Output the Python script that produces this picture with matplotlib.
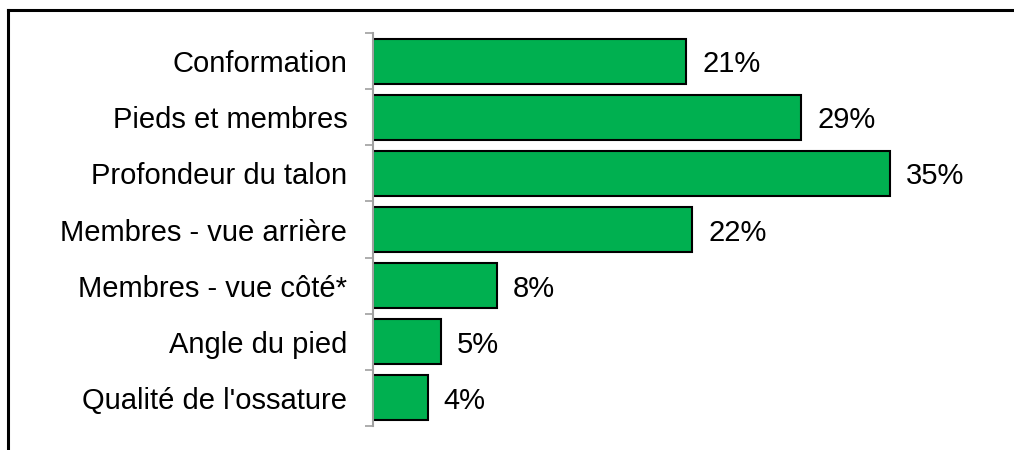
import matplotlib.pyplot as plt
import numpy as np
from matplotlib.lines import Line2D

# Data (percent)
categories = ["Conformation", "Pieds et membres", "Profondeur du talon",
              "Membres - vue arrière", "Membres - vue côté*", "Angle du pied",
              "Qualité de l'ossature"]
values = [21.2, 29.0, 35.0, 21.6, 8.4, 4.6, 3.7]

plt.rcParams['font.family'] = ['Liberation Sans', 'DejaVu Sans']

fig = plt.figure(figsize=(10.14, 4.5), dpi=100)
ax = fig.add_axes([373 / 1014, 1 - 426 / 450, 641 / 1014, 393 / 450])

y = np.arange(len(categories))
ax.barh(y, values, height=0.8, color="#00B050", edgecolor="black", linewidth=1.5)

for yi, v in zip(y, values):
    ax.annotate(f"{v:.0f}%", (v, yi), xytext=(11.5, 0), textcoords="offset points",
                va="center_baseline", ha="left", fontsize=21)

ax.set_xlim(0, 641 / 14.77)
ax.set_ylim(len(categories) - 0.5, -0.5)

ax.set_yticks(y)
ax.set_yticklabels(categories, fontsize=21, va="center_baseline")
ax.tick_params(axis="y", which="major", length=0, pad=18.5)
ax.set_yticks(np.arange(-0.5, len(categories)), minor=True)
ax.tick_params(axis="y", which="minor", length=6, width=1.2, color="#A0A0A0")
ax.set_xticks([])

for s in ["top", "right", "bottom"]:
    ax.spines[s].set_visible(False)
ax.spines["left"].set_color("#A0A0A0")
ax.spines["left"].set_linewidth(1.5)

# outer frame (cropped at the right and bottom)
fig.add_artist(Line2D([8 / 1014, 8 / 1014], [1 - 10 / 450, -0.1], color="black", lw=2.2))
fig.add_artist(Line2D([8 / 1014, 1.1], [1 - 10 / 450, 1 - 10 / 450], color="black", lw=2.2))

fig.savefig("out.png", dpi=100)
